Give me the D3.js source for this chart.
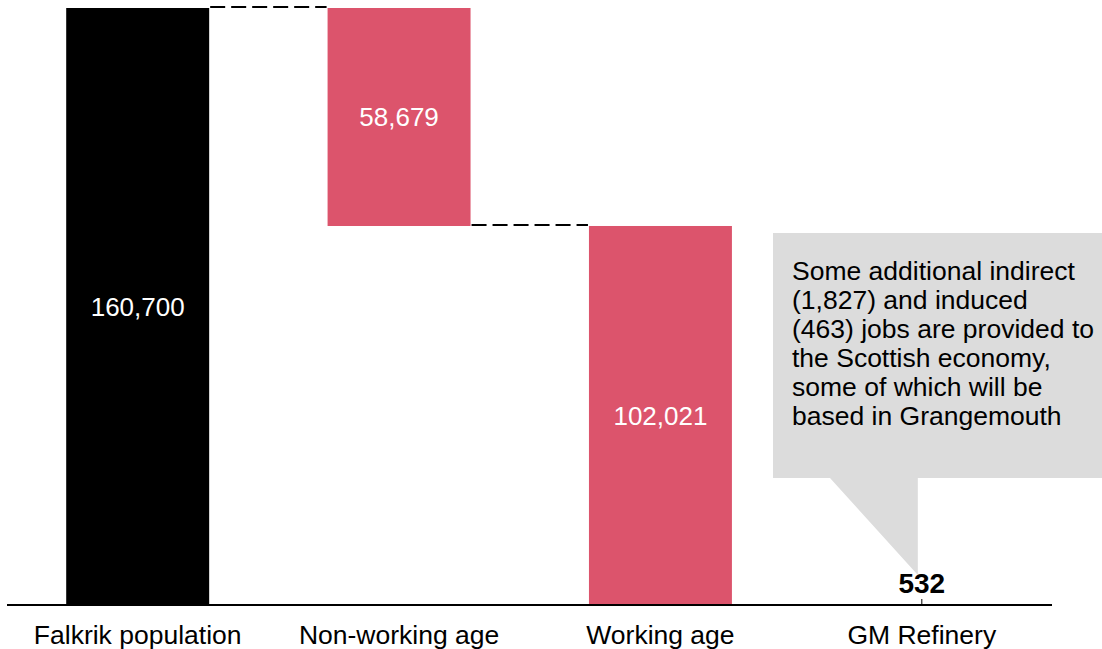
<!DOCTYPE html>
<html>
<head>
<meta charset="utf-8">
<script src="https://cdn.jsdelivr.net/npm/d3@7/dist/d3.min.js"></script>
<style>
  body { margin: 0; background: #fff; }
  svg text { font-family: 'Liberation Sans', Arial, sans-serif; }
</style>
</head>
<body>
<div id="chart"></div>
<script>
// waterfall data
var categories = ["Falkrik population", "Non-working age", "Working age", "GM Refinery"];
var values = [160700, 58679, 102021, 532];
var valueLabels = ["160,700", "58,679", "102,021", "532"];
var calloutLines = [
  "Some additional indirect",
  "(1,827) and induced",
  "(463) jobs are provided to",
  "the Scottish economy,",
  "some of which will be",
  "based in Grangemouth"
];

var W = 1102, H = 649;
var svg = d3.select("#chart").append("svg").attr("width", W).attr("height", H);

var x = d3.scaleBand().domain(categories).range([7, 1052.5])
  .paddingInner(0.453).paddingOuter(0.2265);
var y = d3.scaleLinear().domain([0, values[0]]).range([605, 8]);

// start/end of each bar (total, step down, total, total)
var bars = [
  { c: categories[0], y0: 0, y1: values[0], fill: "#000000", text: "#fff" },
  { c: categories[1], y0: values[0] - values[1], y1: values[0], fill: "#DC546C", text: "#fff" },
  { c: categories[2], y0: 0, y1: values[2], fill: "#DC546C", text: "#fff" },
  { c: categories[3], y0: 0, y1: values[3], fill: "none", text: "#000" }
];

svg.selectAll("rect.bar").data(bars).enter().append("rect")
  .attr("class", "bar")
  .attr("x", function (d) { return x(d.c); })
  .attr("width", x.bandwidth())
  .attr("y", function (d) { return y(d.y1); })
  .attr("height", function (d) { return y(d.y0) - y(d.y1); })
  .attr("fill", function (d) { return d.fill; });

// dashed connectors
var links = [
  { a: categories[0], b: categories[1], v: values[0] },
  { a: categories[1], b: categories[2], v: values[0] - values[1] }
];
svg.selectAll("line.link").data(links).enter().append("line")
  .attr("x1", function (d) { return x(d.a) + x.bandwidth() + 1; })
  .attr("x2", function (d) { return x(d.b) - 1; })
  .attr("y1", function (d) { return y(d.v) - 1; })
  .attr("y2", function (d) { return y(d.v) - 1; })
  .attr("stroke", "#000").attr("stroke-width", 2)
  .attr("stroke-dasharray", "15,6");

// x axis
var axis = svg.append("g").attr("transform", "translate(0,605)");
axis.append("line").attr("x1", 7).attr("x2", 1052).attr("stroke", "#000").attr("stroke-width", 2);
axis.append("line")
  .attr("x1", x(categories[3]) + x.bandwidth() / 2).attr("x2", x(categories[3]) + x.bandwidth() / 2)
  .attr("y1", -6).attr("y2", 0).attr("stroke", "#000").attr("stroke-width", 1);
axis.selectAll("text").data(categories).enter().append("text")
  .attr("x", function (d) { return x(d) + x.bandwidth() / 2; })
  .attr("y", 38.5)
  .attr("text-anchor", "middle")
  .style("font-size", "26.5px")
  .attr("fill", "#000")
  .text(function (d) { return d; });

// callout
var tipX = x(categories[3]) + x.bandwidth() / 2 - 4;
var callout = svg.append("g");
callout.append("path")
  .attr("d", "M773,233 H1102 V478 H" + tipX + " V575 L830,478 H773 Z")
  .attr("fill", "#DCDCDC");
callout.selectAll("text").data(calloutLines).enter().append("text")
  .attr("x", 792)
  .attr("y", function (d, i) { return 279.5 + i * 29; })
  .style("font-size", "26.5px")
  .attr("fill", "#000")
  .text(function (d) { return d; });

// value labels
svg.selectAll("text.val").data(bars).enter().append("text")
  .attr("class", "val")
  .attr("x", function (d) { return x(d.c) + x.bandwidth() / 2; })
  .attr("y", function (d, i) {
    if (i === 3) return y(d.y1) - 10;
    return (y(d.y0) + y(d.y1)) / 2 + 9.5;
  })
  .attr("text-anchor", "middle")
  .style("font-size", function (d, i) { return i === 3 ? "28px" : "26px"; })
  .style("font-weight", function (d, i) { return i === 3 ? "bold" : "normal"; })
  .attr("fill", function (d) { return d.text; })
  .text(function (d, i) { return valueLabels[i]; });
</script>
</body>
</html>
